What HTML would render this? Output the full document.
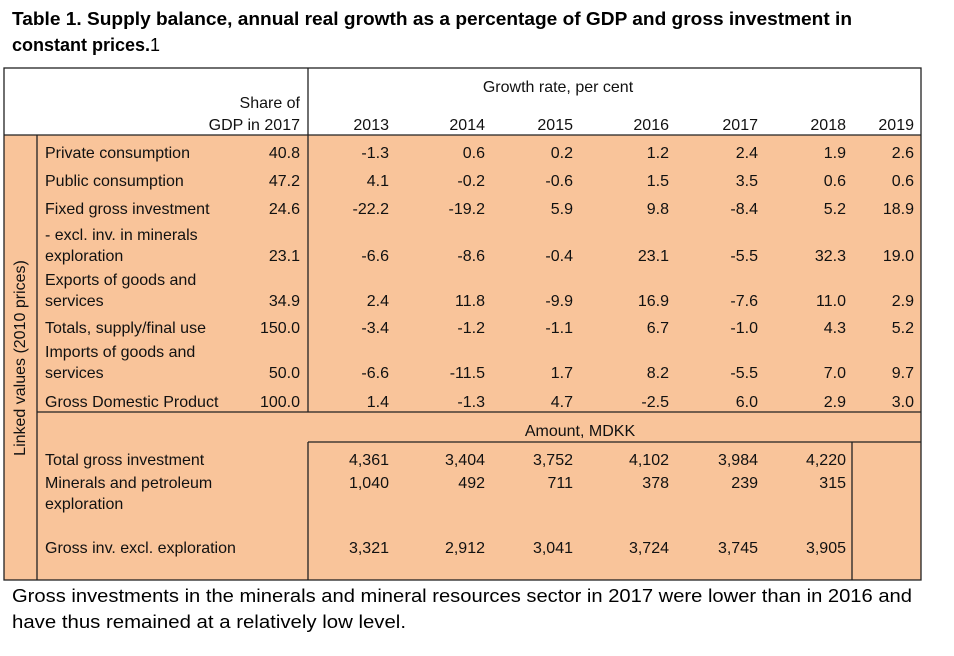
<!DOCTYPE html>
<html><head><meta charset="utf-8"><style>
body{margin:0;background:#fff;}
svg{display:block;font-family:"Liberation Sans",sans-serif;}
.t{font-size:16px;fill:#111;}
.r{text-anchor:end;}
</style></head><body>
<svg width="954" height="656" viewBox="0 0 954 656">
<text x="12" y="25" font-size="18" font-weight="bold" textLength="840" lengthAdjust="spacingAndGlyphs">Table 1. Supply balance, annual real growth as a percentage of GDP and gross investment in</text>
<text x="12" y="51" font-size="18"><tspan font-weight="bold">constant prices.</tspan>1</text>
<rect x="4" y="135" width="917" height="445" fill="#F9C49A"/>
<g stroke="#222" stroke-width="1.3" fill="none">
<rect x="4" y="68" width="917" height="512"/>
<line x1="4" y1="135" x2="921" y2="135"/>
<line x1="37" y1="135" x2="37" y2="580"/>
<line x1="308" y1="68" x2="308" y2="412"/>
<line x1="37" y1="412" x2="921" y2="412"/>
<line x1="308" y1="442" x2="921" y2="442"/>
<line x1="308" y1="442" x2="308" y2="580"/>
<line x1="852" y1="442" x2="852" y2="580"/>
</g>
<text class="t" x="20" y="358" text-anchor="middle" transform="rotate(-90 20 358)" dy="5">Linked values (2010 prices)</text>
<text class="t" x="558" y="92" text-anchor="middle">Growth rate, per cent</text>
<text class="t r" x="300" y="108">Share of</text>
<text class="t r" x="300" y="130">GDP in 2017</text>
<g id="years"></g>
<g id="rows"></g>
<text class="t" x="580" y="436" text-anchor="middle">Amount, MDKK</text>
<text class="t" x="45" y="465">Total gross investment</text>
<text class="t" x="45" y="488">Minerals and petroleum</text>
<text class="t" x="45" y="509">exploration</text>
<text class="t" x="45" y="553">Gross inv. excl. exploration</text>
<g id="amounts"></g>
<text x="12" y="602" font-size="18" textLength="900" lengthAdjust="spacingAndGlyphs">Gross investments in the minerals and mineral resources sector in 2017 were lower than in 2016 and</text>
<text x="12" y="628" font-size="18" textLength="394" lengthAdjust="spacingAndGlyphs">have thus remained at a relatively low level.</text>
</svg>
<script>
const years = ["2013","2014","2015","2016","2017","2018","2019"];
const rowLabels = [["Private consumption"],["Public consumption"],["Fixed gross investment"],["- excl. inv. in minerals","exploration"],["Exports of goods and","services"],["Totals, supply/final use"],["Imports of goods and","services"],["Gross Domestic Product"]];
const shares = ["40.8","47.2","24.6","23.1","34.9","150.0","50.0","100.0"];
const growth = [
 ["-1.3","0.6","0.2","1.2","2.4","1.9","2.6"],
 ["4.1","-0.2","-0.6","1.5","3.5","0.6","0.6"],
 ["-22.2","-19.2","5.9","9.8","-8.4","5.2","18.9"],
 ["-6.6","-8.6","-0.4","23.1","-5.5","32.3","19.0"],
 ["2.4","11.8","-9.9","16.9","-7.6","11.0","2.9"],
 ["-3.4","-1.2","-1.1","6.7","-1.0","4.3","5.2"],
 ["-6.6","-11.5","1.7","8.2","-5.5","7.0","9.7"],
 ["1.4","-1.3","4.7","-2.5","6.0","2.9","3.0"]];
const totalInv = ["4,361","3,404","3,752","4,102","3,984","4,220"];
const minerals = ["1,040","492","711","378","239","315"];
const exclExpl = ["3,321","2,912","3,041","3,724","3,745","3,905"];
const NS="http://www.w3.org/2000/svg";
const colRight=[389,485,573,669,758,846,914];
const rowY=[158,186,214,261,306,333,378,407];
function txt(parent,x,y,s,right){const t=document.createElementNS(NS,"text");t.setAttribute("x",x);t.setAttribute("y",y);t.setAttribute("class","t"+(right?" r":""));t.textContent=s;parent.appendChild(t);return t;}
const gy=document.getElementById("years");
years.forEach((yv,i)=>{const t=txt(gy,colRight[i],130,yv,true);

});
const gr=document.getElementById("rows");
rowLabels.forEach((lab,r)=>{
 lab.forEach((l,k)=>{const t=txt(gr,45,rowY[r]-(lab.length-1-k)*21,l,false);
 
 });
 const s=txt(gr,300,rowY[r],shares[r],true);
 
 
 growth[r].forEach((v,c)=>{const t=txt(gr,colRight[c],rowY[r],v,true);
 
 });
});
const ga=document.getElementById("amounts");
[[totalInv,465],[minerals,488],[exclExpl,553]].forEach(([arr,y])=>{
 arr.forEach((v,c)=>{const t=txt(ga,colRight[c],y,v,true);
 
 });
});
</script>
</body></html>
